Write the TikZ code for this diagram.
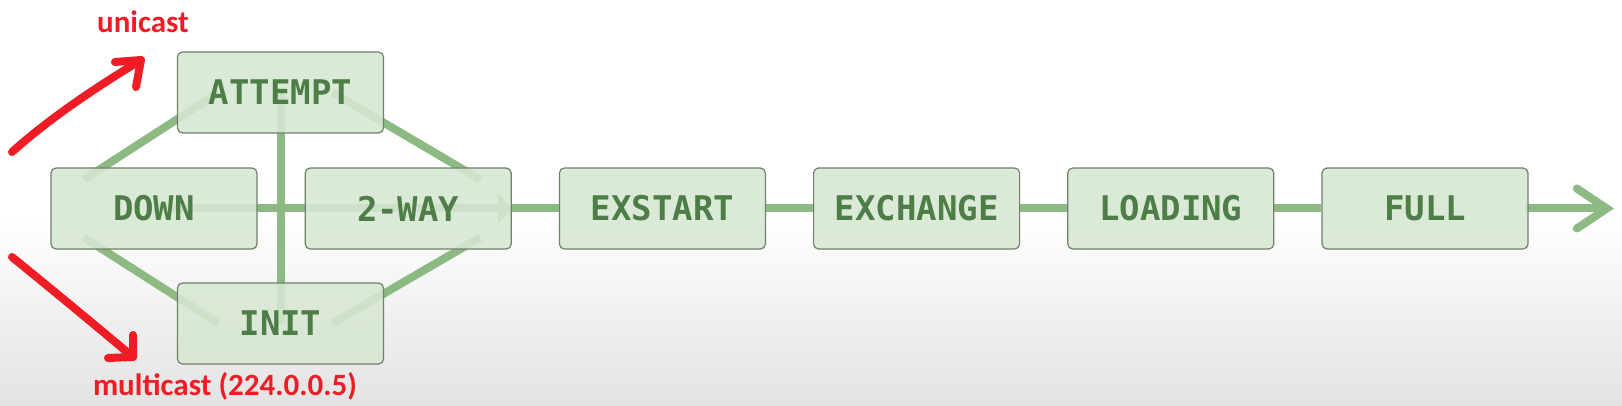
\documentclass[tikz,border=0pt]{standalone}
\usepackage{fontspec}
\newfontfamily\statefont{DejaVu Sans Mono}
\newfontfamily\notefont{Carlito}
\usetikzlibrary{positioning,calc,arrows.meta,backgrounds}
\definecolor{linkgreen}{HTML}{8CBA82}
\definecolor{boxfill}{HTML}{D7E7D2}
\definecolor{boxline}{HTML}{6F806B}
\definecolor{textgreen}{HTML}{4E7E47}
\definecolor{notered}{HTML}{EE1C24}

\begin{document}
\begin{tikzpicture}
[x = 1pt, y = -1pt,
node distance = 47pt,
state/.style = {draw=boxline,line width=1.2pt,rounded corners=5pt,fill=boxfill,fill opacity=0.88,text opacity=1,
minimum width=206pt,minimum height=81pt,inner sep=0pt,text=textgreen,font=\statefont\bfseries\fontsize{34}{34}\selectfont},
link/.style = {draw=linkgreen,line width=8pt},
note/.style = {text=notered,font=\notefont\bfseries\fontsize{31}{31}\selectfont,inner sep=0pt},
scribble/.style = {draw=notered,line width=8pt,line cap=round,line join=round}]
\useasboundingbox (0,0) rectangle (1622,406);

% states
\node[state] (down) at (154,208.5) {DOWN};
\node[state,right=of down] (twoway) {2-WAY};
\node[state,right=of twoway] (exstart) {EXSTART};
\node[state,right=of exstart] (exchange) {EXCHANGE};
\node[state,right=of exchange] (loading) {LOADING};
\node[state,right=of loading] (full) {FULL};
\node[state] (attempt) at (280.5,92.5) {ATTEMPT};
\node[state] (init) at (280.5,323.5) {INIT};
\coordinate (end) at (1614,208.5);

% links
\begin{scope}[on background layer]
\fill[white] (0,0) rectangle (1622,215);
\shade[top color=white,bottom color=black!11] (0,215) rectangle (1622,406);
\draw[link] ($(down)+(-70,-29)$) -- ($(attempt)+(-62,0)$);
\draw[link] ($(attempt)+(52,0)$) -- ($(twoway)+(72,-29)$);
\draw[link] ($(down)+(-70,29)$) -- ($(init)+(-62,0)$);
\draw[link] ($(init)+(52,0)$) -- ($(twoway)+(72,29)$);
\draw[link] (attempt.center) -- (init.center);
\draw[link,-{Triangle[length=14pt,width=30pt]}] (down.center) -- (twoway.east);
\draw[link] (twoway) -- (exstart) -- (exchange) -- (loading) -- (full);
\draw[link,line cap=round,-{Straight Barb[length=30pt,width=40pt,line cap=round]}] (full) -- (end);
\end{scope}

% notes
\node[note,anchor=base] (unicast) at (143,33) {unicast};
\node[note,anchor=base] (multicast) at (225,395) {multicast (224.0.0.5)};
\coordinate (u0) at (12,152);
\coordinate (u1) at (141,60);
\coordinate (m0) at (12,257);
\coordinate (m1) at (133,357);
\draw[scribble] (u0) .. controls (50,118) and (95,88) .. (u1);
\draw[scribble] ($(u1)+(-26,2)$) -- (u1) -- ($(u1)+(-5,27)$);
\draw[scribble] (m0) .. controls (55,292) and (95,325) .. (m1);
\draw[scribble] ($(m1)+(0,-22)$) -- (m1) -- ($(m1)+(-25,1)$);
\end{tikzpicture}
\end{document}
